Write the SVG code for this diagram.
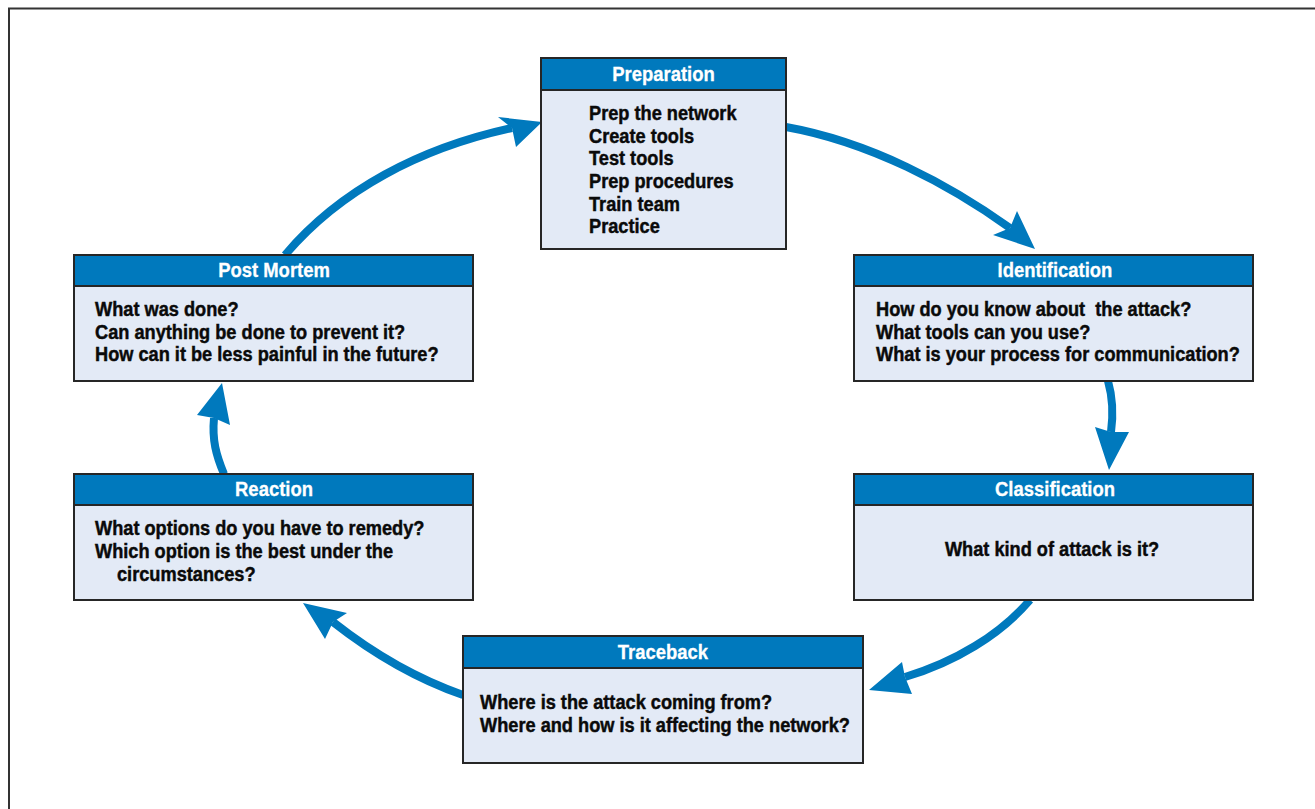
<svg xmlns="http://www.w3.org/2000/svg" width="1315" height="809" viewBox="0 0 1315 809">
<defs>
<style>
.box{fill:#e3eaf6;stroke:#262626;stroke-width:2}
.hdr{fill:#0079bd;stroke:#262626;stroke-width:2}
.ttl{font-family:"Liberation Sans Narrow","Liberation Sans",Arial,sans-serif;font-weight:bold;font-size:20.5px;fill:#ffffff;stroke:#ffffff;stroke-width:0.3;text-anchor:middle}
.txt{font-family:"Liberation Sans Narrow","Liberation Sans",Arial,sans-serif;font-weight:bold;font-size:20px;fill:#0a0a0a;stroke:#0a0a0a;stroke-width:0.45}
.shaft{fill:none;stroke:#0079bd;stroke-width:8}
.head{fill:#0079bd}
</style>
</defs>
<rect width="1315" height="809" fill="#ffffff"/>
<path d="M9 809 V8.5 H1315" fill="none" stroke="#333333" stroke-width="2"/>

<g id="connectors">
<path class="shaft" d="M786 127 C870 142 950 185 1010 228"/>
<polygon class="head" points="1035,249 993,235 1010,228 1017,211"/>
<path class="shaft" d="M1108 381 C1112 395 1114 410 1111 432"/>
<polygon class="head" points="1109,470 1095,427 1111,432 1129,432"/>
<path class="shaft" d="M1030 600 C1000 635 955 662 905 677"/>
<polygon class="head" points="869,690 902,662 905,677 912,694"/>
<path class="shaft" d="M463 695 C420 680 375 655 333 622"/>
<polygon class="head" points="303,603 347,613 333,622 325,639"/>
<path class="shaft" d="M224 474 C216 455 212 440 214 418"/>
<polygon class="head" points="222,383 230,425 214,418 197,415"/>
<path class="shaft" d="M285 255 C340 190 420 148 512 128"/>
<polygon class="head" points="542,122 516,147 512,128 498,117"/>
</g>

<g id="preparation">
<rect class="box" x="541" y="58" width="245" height="191"/>
<rect class="hdr" x="541" y="58" width="245" height="32"/>
<text class="ttl" transform="translate(663.5,81) scale(0.9,1)">Preparation</text>
<text class="txt" transform="translate(589,120) scale(0.91,1)">Prep the network</text>
<text class="txt" transform="translate(589,142.5) scale(0.91,1)">Create tools</text>
<text class="txt" transform="translate(589,165) scale(0.91,1)">Test tools</text>
<text class="txt" transform="translate(589,188) scale(0.91,1)">Prep procedures</text>
<text class="txt" transform="translate(589,210.5) scale(0.91,1)">Train team</text>
<text class="txt" transform="translate(589,233) scale(0.91,1)">Practice</text>
</g>

<g id="identification">
<rect class="box" x="854" y="255" width="399" height="126"/>
<rect class="hdr" x="854" y="255" width="399" height="31"/>
<text class="ttl" transform="translate(1055,277) scale(0.9,1)">Identification</text>
<text class="txt" transform="translate(876,316) scale(0.91,1)">How do you know about&#160; the attack?</text>
<text class="txt" transform="translate(876,339) scale(0.91,1)">What tools can you use?</text>
<text class="txt" transform="translate(876,361) scale(0.91,1)">What is your process for communication?</text>
</g>

<g id="classification">
<rect class="box" x="854" y="474" width="399" height="126"/>
<rect class="hdr" x="854" y="474" width="399" height="31"/>
<text class="ttl" transform="translate(1055,496) scale(0.9,1)">Classification</text>
<text class="txt" text-anchor="middle" transform="translate(1052,556) scale(0.91,1)">What kind of attack is it?</text>
</g>

<g id="traceback">
<rect class="box" x="463" y="636" width="400" height="127"/>
<rect class="hdr" x="463" y="636" width="400" height="32"/>
<text class="ttl" transform="translate(663,659) scale(0.9,1)">Traceback</text>
<text class="txt" transform="translate(480,709) scale(0.91,1)">Where is the attack coming from?</text>
<text class="txt" transform="translate(480,732) scale(0.91,1)">Where and how is it affecting the network?</text>
</g>

<g id="reaction">
<rect class="box" x="74" y="474" width="399" height="126"/>
<rect class="hdr" x="74" y="474" width="399" height="31"/>
<text class="ttl" transform="translate(274,496) scale(0.9,1)">Reaction</text>
<text class="txt" transform="translate(95,535) scale(0.91,1)">What options do you have to remedy?</text>
<text class="txt" transform="translate(95,558) scale(0.91,1)">Which option is the best under the</text>
<text class="txt" transform="translate(117,581) scale(0.91,1)">circumstances?</text>
</g>

<g id="post-mortem">
<rect class="box" x="74" y="255" width="399" height="126"/>
<rect class="hdr" x="74" y="255" width="399" height="31"/>
<text class="ttl" transform="translate(274,277) scale(0.9,1)">Post Mortem</text>
<text class="txt" transform="translate(95,316) scale(0.91,1)">What was done?</text>
<text class="txt" transform="translate(95,339) scale(0.91,1)">Can anything be done to prevent it?</text>
<text class="txt" transform="translate(95,361) scale(0.91,1)">How can it be less painful in the future?</text>
</g>
</svg>
